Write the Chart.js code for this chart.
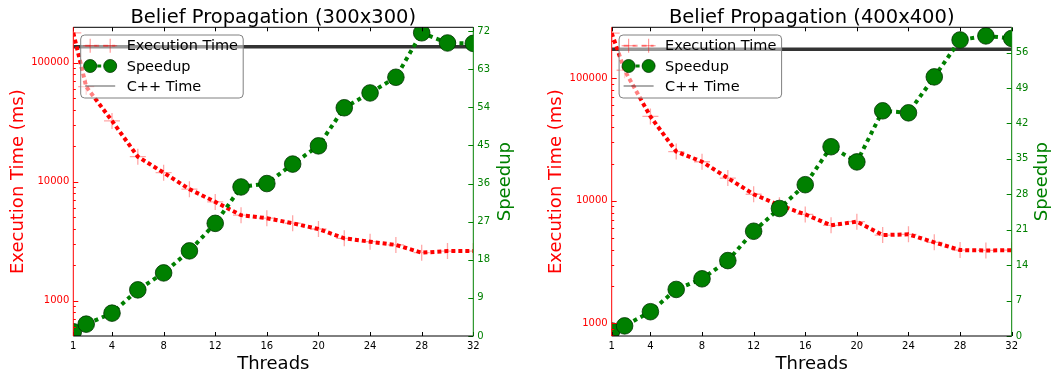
<!DOCTYPE html>
<html>
<head>
<meta charset="utf-8">
<script src="https://cdn.jsdelivr.net/npm/chart.js@4.4.1/dist/chart.umd.min.js"></script>
<style>
  html, body { margin: 0; padding: 0; background: #fff; }
  #wrap { position: relative; width: 1052px; height: 375px; overflow: hidden; }
  .panel { position: absolute; top: 0; width: 526px; height: 375px; }
</style>
</head>
<body>
<div id="wrap">
  <div class="panel" style="left:0"><canvas id="bp300" width="526" height="375"></canvas></div>
  <div class="panel" style="left:526px"><canvas id="bp400" width="526" height="375"></canvas></div>
</div>
<script>
// ---- measurements: thread counts, run times (ms) and speedups ----
const threads = [1, 2, 4, 6, 8, 10, 12, 14, 16, 18, 20, 22, 24, 26, 28, 30, 32];
const threadTicks = [1, 4, 8, 12, 16, 20, 24, 28, 32];

const execTime300 = [178000, 62800, 32400, 16200, 11900, 8650, 6760, 5230, 4930, 4470, 4000, 3340, 3130, 2940, 2530, 2610, 2610];
const speedup300  = [1.0, 2.8, 5.4, 10.9, 14.9, 20.1, 26.6, 35.2, 36.0, 40.6, 44.9, 53.9, 57.4, 61.1, 71.6, 69.2, 69.1];
const cppTime300  = 136000;

const execTime400 = [233000, 116000, 48700, 25200, 20800, 15300, 11300, 9200, 7740, 6300, 6750, 5250, 5320, 4580, 3960, 3930, 3950];
const speedup400  = [1.0, 2.0, 4.8, 9.2, 11.3, 14.9, 20.7, 25.2, 29.9, 37.4, 34.4, 44.5, 44.1, 51.2, 58.5, 59.3, 58.8];
const cppTime400  = 172000;

const timeTicks = [1000, 10000, 100000];
const speedupTicks300 = [0, 9, 18, 27, 36, 45, 54, 63, 72];
const speedupTicks400 = [0, 7, 14, 21, 28, 35, 42, 49, 56];

const FONT = "'DejaVu Sans', sans-serif";
const RED = '#ff0000';
const GREEN = '#008000';

function line(ctx, x1, y1, x2, y2) {
  ctx.beginPath(); ctx.moveTo(x1, y1); ctx.lineTo(x2, y2); ctx.stroke();
}

// Frame, inward ticks, legend and titles drawn on top of the data
const decor = {
  id: 'decor',
  afterDatasetsDraw(chart, args, o) {
    const { ctx, chartArea: a, scales } = chart;
    const xs = scales.x, yt = scales.y, ys = scales.y1;
    ctx.save();
    ctx.lineWidth = 1;

    // x ticks, bottom and top, pointing inward
    ctx.strokeStyle = '#000';
    threadTicks.forEach(v => {
      const px = Math.round(xs.getPixelForValue(v)) + 0.5;
      line(ctx, px, a.bottom, px, a.bottom - 4);
      line(ctx, px, a.top, px, a.top + 4);
    });

    // log-axis ticks (major + minor) on the left spine
    ctx.strokeStyle = RED;
    const lo = Math.floor(Math.log10(yt.min)), hi = Math.ceil(Math.log10(yt.max));
    for (let d = lo; d <= hi; d++) {
      for (let k = 1; k <= 9; k++) {
        const v = k * Math.pow(10, d);
        if (v < yt.min || v > yt.max) continue;
        const py = Math.round(yt.getPixelForValue(v)) + 0.5;
        line(ctx, a.left, py, a.left + (k === 1 ? 5 : 2.5), py);
      }
    }

    // speedup ticks on the right spine
    ctx.strokeStyle = GREEN;
    o.speedTicks.forEach(v => {
      const py = Math.round(ys.getPixelForValue(v)) + 0.5;
      line(ctx, a.right, py, a.right - 5, py);
    });

    // spines
    ctx.strokeStyle = '#000';
    line(ctx, a.left, a.top, a.right, a.top);
    line(ctx, a.left, a.bottom, a.right, a.bottom);
    ctx.strokeStyle = RED;
    line(ctx, a.left, a.top, a.left, a.bottom);
    ctx.strokeStyle = GREEN;
    line(ctx, a.right, a.top, a.right, a.bottom);

    // legend box
    const bx = a.left + 7.4, by = 35, bw = 162.5, bh = 63;
    ctx.beginPath();
    ctx.roundRect(bx, by, bw, bh, 4);
    ctx.fillStyle = 'rgba(255,255,255,0.5)';
    ctx.fill();
    ctx.strokeStyle = '#808080';
    ctx.lineWidth = 1;
    ctx.stroke();

    const hx1 = bx + 4.5, hx2 = bx + 34.5, m1 = bx + 9.5, m2 = bx + 29.5;
    const rows = [by + 10.7, by + 31, by + 51];

    // Execution Time handle
    ctx.strokeStyle = 'rgba(255,0,0,0.4)';
    ctx.lineWidth = 2;
    ctx.setLineDash([5, 4]);
    line(ctx, hx1, rows[0], hx2, rows[0]);
    ctx.setLineDash([]);
    ctx.lineWidth = 1.2;
    [m1, m2].forEach(mx => {
      line(ctx, mx - 7, rows[0], mx + 7, rows[0]);
      line(ctx, mx, rows[0] - 7, mx, rows[0] + 7);
    });

    // Speedup handle
    ctx.strokeStyle = GREEN;
    ctx.lineWidth = 3;
    ctx.setLineDash([4, 3]);
    line(ctx, m1, rows[1], m2, rows[1]);
    ctx.setLineDash([]);
    [m1, m2].forEach(mx => {
      ctx.beginPath();
      ctx.arc(mx, rows[1], 6.5, 0, Math.PI * 2);
      ctx.fillStyle = GREEN;
      ctx.fill();
      ctx.strokeStyle = '#003300';
      ctx.lineWidth = 0.8;
      ctx.stroke();
    });

    // C++ Time handle
    ctx.strokeStyle = 'rgba(0,0,0,0.55)';
    ctx.lineWidth = 1.2;
    line(ctx, hx1, rows[2], hx2, rows[2]);

    ctx.fillStyle = '#000';
    ctx.font = '14.5px ' + FONT;
    ctx.textAlign = 'left';
    ctx.textBaseline = 'middle';
    ['Execution Time', 'Speedup', 'C++ Time'].forEach((t, i) => ctx.fillText(t, bx + 46, rows[i] + 1));

    // chart title
    const cx = (a.left + a.right) / 2;
    ctx.textBaseline = 'alphabetic';
    ctx.textAlign = 'center';
    ctx.font = '19.5px ' + FONT;
    ctx.fillText(o.title, cx, 23.3);

    // x-axis title
    ctx.font = '18px ' + FONT;
    ctx.fillText('Threads', cx, 369.3);

    // y-axis titles, reading bottom to top
    const cy = (a.top + a.bottom) / 2;
    ctx.save();
    ctx.translate(o.leftTitleX, cy);
    ctx.rotate(-Math.PI / 2);
    ctx.fillStyle = RED;
    ctx.fillText('Execution Time (ms)', 0, 0);
    ctx.restore();

    ctx.save();
    ctx.translate(o.rightTitleX, cy);
    ctx.rotate(-Math.PI / 2);
    ctx.fillStyle = GREEN;
    ctx.fillText('Speedup', 0, 0);
    ctx.restore();

    ctx.restore();
  }
};

function makePanel(id, cfg) {
  const pts = arr => threads.map((t, i) => ({ x: t, y: arr[i] }));
  return new Chart(document.getElementById(id), {
    type: 'line',
    data: {
      datasets: [
        {
          label: 'Speedup',
          yAxisID: 'y1',
          data: pts(cfg.speedup),
          borderColor: GREEN,
          borderWidth: 4,
          borderDash: [4, 4],
          pointRadius: 8.3,
          pointBackgroundColor: GREEN,
          pointBorderColor: '#003300',
          pointBorderWidth: 0.8,
          fill: false,
          tension: 0,
          clip: 0
        },
        {
          label: 'Execution Time',
          yAxisID: 'y',
          data: pts(cfg.exec),
          borderColor: RED,
          borderWidth: 4,
          borderDash: [4, 3],
          pointStyle: 'cross',
          pointRadius: 8,
          pointBorderColor: 'rgba(255,0,0,0.35)',
          pointBorderWidth: 1.3,
          fill: false,
          tension: 0,
          clip: 0
        },
        {
          label: 'C++ Time',
          yAxisID: 'y',
          data: [{ x: threads[0], y: cfg.cpp }, { x: threads[threads.length - 1], y: cfg.cpp }],
          borderColor: '#333333',
          borderWidth: 3.5,
          pointRadius: 0,
          fill: false,
          clip: 0
        }
      ]
    },
    options: {
      responsive: false,
      animation: false,
      devicePixelRatio: 1,
      layout: { padding: { top: 27.3, left: 0, right: 0, bottom: 0 } },
      plugins: {
        legend: { display: false },
        tooltip: { enabled: false },
        title: { display: false },
        decor: { title: cfg.title, leftTitleX: cfg.leftTitleX, rightTitleX: cfg.rightTitleX, speedTicks: cfg.speedTicks }
      },
      scales: {
        x: {
          type: 'linear',
          position: 'bottom',
          min: 1,
          max: 32,
          afterBuildTicks: s => { s.ticks = threadTicks.map(v => ({ value: v })); },
          afterFit: s => { s.height = 375 - 336; },
          grid: { display: false, drawTicks: false },
          border: { display: false },
          ticks: { color: '#000', font: { family: FONT, size: 10 }, padding: 4, maxRotation: 0, autoSkip: false, callback: v => String(v) }
        },
        y: {
          type: 'logarithmic',
          position: 'left',
          min: cfg.timeMin,
          max: cfg.timeMax,
          afterBuildTicks: s => { s.ticks = timeTicks.map(v => ({ value: v })); },
          afterFit: s => { s.width = cfg.leftW; },
          grid: { display: false, drawTicks: false },
          border: { display: false },
          ticks: { color: RED, font: { family: FONT, size: 10 }, padding: 4, callback: v => String(v) }
        },
        y1: {
          type: 'linear',
          position: 'right',
          min: 0,
          max: cfg.speedMax,
          afterBuildTicks: s => { s.ticks = cfg.speedTicks.map(v => ({ value: v })); },
          afterFit: s => { s.width = cfg.rightW; },
          grid: { display: false, drawTicks: false },
          border: { display: false },
          ticks: { color: GREEN, font: { family: FONT, size: 10 }, padding: 4, callback: v => String(v) }
        }
      }
    },
    plugins: [decor]
  });
}

makePanel('bp300', {
  title: 'Belief Propagation (300x300)',
  exec: execTime300, speedup: speedup300, cpp: cppTime300,
  timeMin: 505, timeMax: 198000,
  speedMax: 72.9, speedTicks: speedupTicks300,
  leftW: 73.3, rightW: 526 - 473.3,
  leftTitleX: 22.5, rightTitleX: 510
});

makePanel('bp400', {
  title: 'Belief Propagation (400x400)',
  exec: execTime400, speedup: speedup400, cpp: cppTime400,
  timeMin: 788, timeMax: 260000,
  speedMax: 61.0, speedTicks: speedupTicks400,
  leftW: 611.7 - 526, rightW: 526 - (1011.7 - 526),
  leftTitleX: 560.5 - 526, rightTitleX: 1046.5 - 526
});
</script>
</body>
</html>
